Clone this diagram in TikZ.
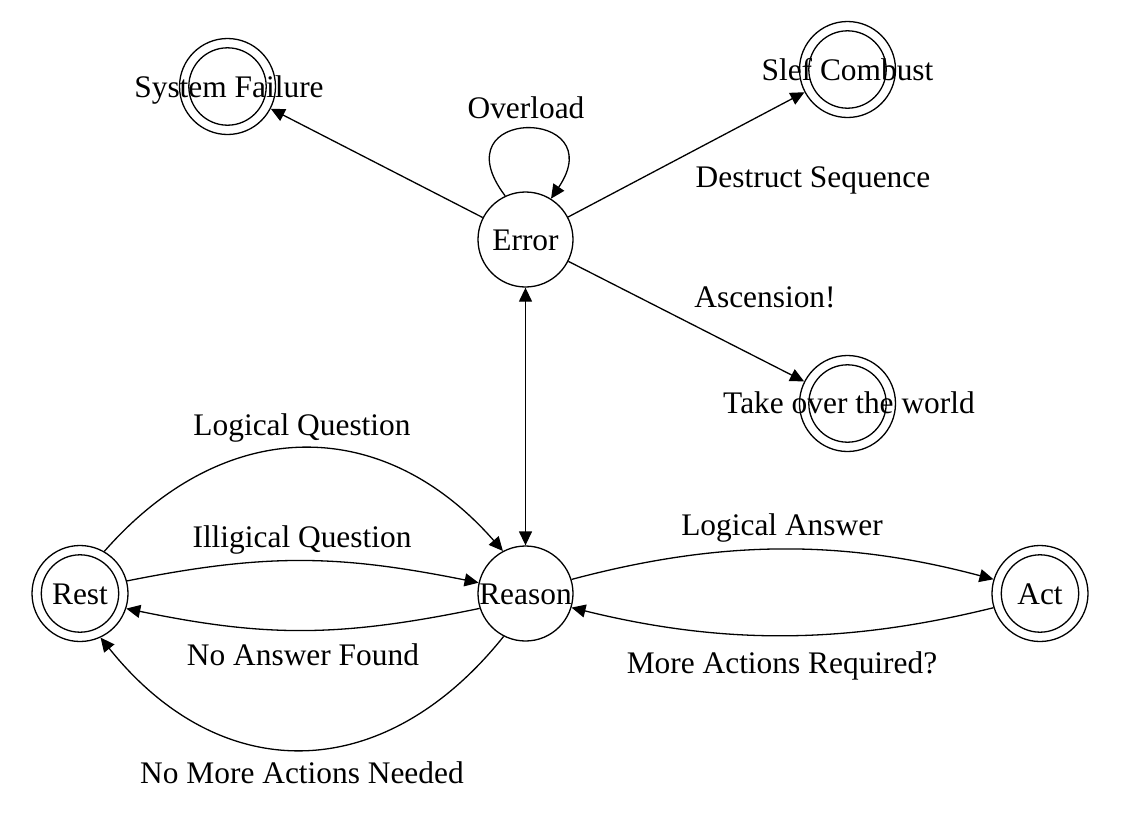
\documentclass[tikz,border=0pt]{standalone}
\usepackage{fontspec}
\setmainfont{Liberation Serif}
\usetikzlibrary{arrows.meta}
\newcommand\myfs{\fontsize{15.7}{19}\selectfont}
\tikzset{
  st/.style={circle, draw, line width=0.65pt, minimum size=47.5pt, inner sep=0pt},
  acc/.style={st, minimum size=48pt,
    path picture={\draw[line width=0.65pt] (path picture bounding box.center) circle (19.35pt);}},
  txt/.style={anchor=base, inner sep=0pt, font=\myfs},
  edge/.style={line width=0.65pt, -{Triangle[length=7pt,width=6.5pt]}},
  dedge/.style={line width=0.65pt, {Triangle[length=7pt,width=6.5pt]}-{Triangle[length=7pt,width=6.5pt]}},
}
\begin{document}
\begin{tikzpicture}[x=0.5pt,y=-0.5pt]
\useasboundingbox (0,0) rectangle (1136,836);
% states
\node[acc] (sf) at (227.5,86.5) {};
\node[st]  (err) at (525.5,239.5) {};
\node[acc] (sc) at (847.5,69.5) {};
\node[acc] (tw) at (847.5,403.5) {};
\node[acc] (rest) at (80,593.5) {};
\node[st]  (rea) at (525.5,593.5) {};
\node[acc] (act) at (1040,593.5) {};
% state texts
\node[txt] (tsf) at (229,97) {System Failure};
\node[txt] (terr) at (525.5,250) {Error};
\node[txt] (tsc) at (847.5,80) {Slef Combust};
\node[txt] (ttw) at (849,413) {Take over the world};
\node[txt] (trest) at (80,604) {Rest};
\node[txt] (trea) at (525.5,604) {Reason};
\node[txt] (tact) at (1040,604) {Act};
% edge labels
\node[txt] (lov) at (526,118) {Overload};
\node[txt] (lds) at (813,187) {Destruct Sequence};
\node[txt] (las) at (765,307) {Ascension!};
\node[txt] (llq) at (302,435) {Logical Question};
\node[txt] (liq) at (302,547) {Illigical Question};
\node[txt] (lnaf) at (303,665) {No Answer Found};
\node[txt] (lnma) at (302,783) {No More Actions Needed};
\node[txt] (lla) at (782,535) {Logical Answer};
\node[txt] (lmar) at (782,673) {More Actions Required?};
% edges
\draw[edge] (err) -- (sf);
\draw[edge] (err.115) .. controls +(-68,-90) and +(62,-92) .. (err.58);
\draw[edge] (err) -- (sc);
\draw[edge] (err) -- (tw);
\draw[dedge] (err) -- (rea);
\draw[edge] (rest.60) .. controls +(120,-137) and +(-120,-137) .. (rea.118);
\draw[edge] (rest.15) .. controls +(140,-28) and +(-140,-28) .. (rea.167);
\draw[edge] (rea.198) .. controls +(-140,29) and +(140,29) .. (rest.-18);
\draw[edge] (rea.243) .. controls +(-120,150) and +(120,150) .. (rest.-65);
\draw[edge] (rea.17) .. controls +(150,-40) and +(-150,-40) .. (act.163);
\draw[edge] (act.197) .. controls +(-150,37) and +(150,37) .. (rea.-17);
\end{tikzpicture}
\end{document}
